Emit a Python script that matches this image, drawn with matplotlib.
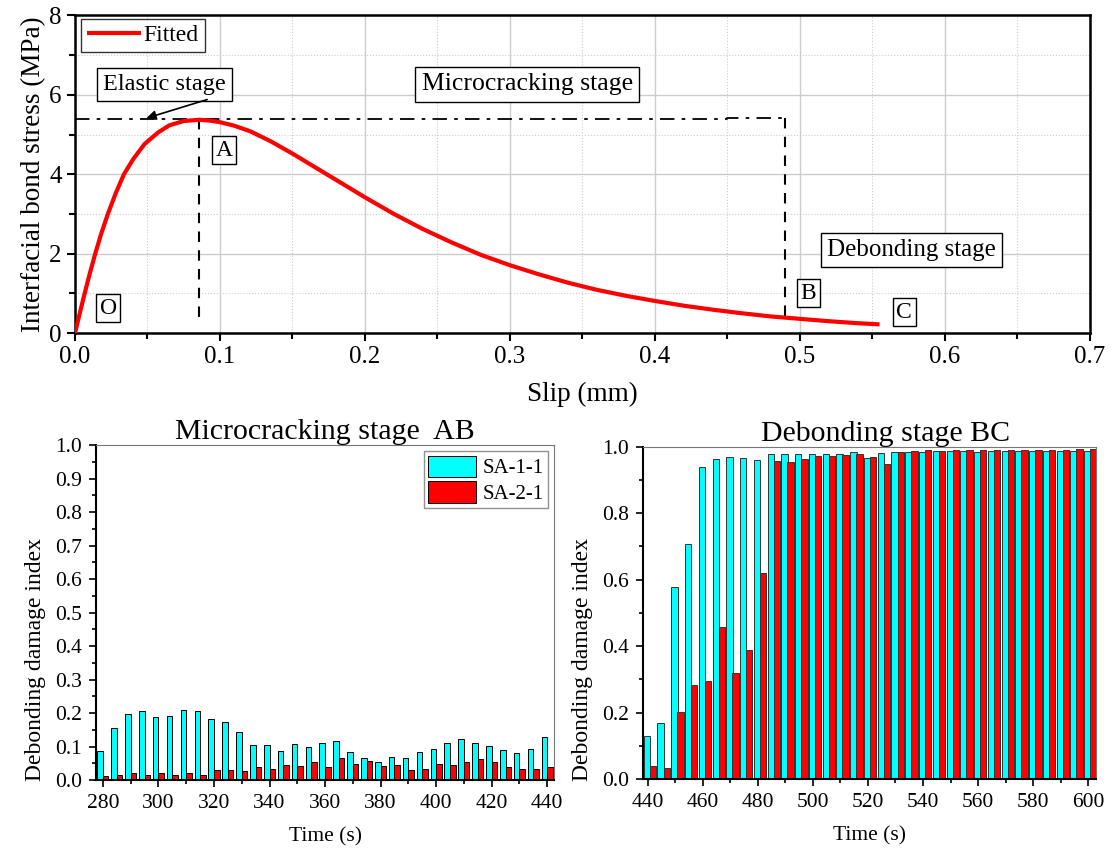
import numpy as np
import matplotlib
matplotlib.use('Agg')
import matplotlib.pyplot as plt
from matplotlib.ticker import MultipleLocator, FormatStrFormatter

plt.rcParams['font.family'] = ['Liberation Serif', 'DejaVu Serif']

# fitted bond-slip curve
slip = [0, 0.003, 0.006, 0.01, 0.014, 0.018, 0.0227, 0.028, 0.0338, 0.04, 0.048,
        0.0573, 0.065, 0.075, 0.0857, 0.093, 0.1, 0.11, 0.121, 0.135, 0.15, 0.165,
        0.18, 0.2, 0.22, 0.24, 0.26, 0.28, 0.3, 0.32, 0.34, 0.36, 0.38, 0.4, 0.42,
        0.44, 0.46, 0.48, 0.5, 0.52, 0.54, 0.555]
stress = [0, 0.45, 0.9, 1.47, 2.0, 2.49, 3.0, 3.51, 4.0, 4.37, 4.76,
          5.05, 5.23, 5.34, 5.37, 5.35, 5.31, 5.22, 5.08, 4.83, 4.52, 4.19,
          3.86, 3.42, 3.0, 2.62, 2.28, 1.97, 1.71, 1.48, 1.27, 1.09, 0.94, 0.81, 0.69,
          0.59, 0.50, 0.42, 0.36, 0.30, 0.25, 0.22]
s_A, s_B = 0.0855, 0.49
tau_peak = 5.38

# damage index, microcracking stage AB
time_ab = list(range(280, 441, 5))
sa11_ab = [0.088, 0.156, 0.197, 0.206, 0.189, 0.192, 0.21, 0.207, 0.183, 0.172, 0.144,
           0.104, 0.106, 0.087, 0.109, 0.098, 0.112, 0.116, 0.085, 0.065, 0.054, 0.068,
           0.067, 0.083, 0.093, 0.111, 0.121, 0.11, 0.101, 0.09, 0.082, 0.093, 0.129]
sa21_ab = [0.013, 0.015, 0.021, 0.016, 0.021, 0.016, 0.022, 0.016, 0.031, 0.029, 0.026,
           0.04, 0.034, 0.044, 0.042, 0.055, 0.039, 0.065, 0.049, 0.058, 0.042, 0.044,
           0.029, 0.032, 0.048, 0.045, 0.053, 0.062, 0.054, 0.038, 0.032, 0.034, 0.039]

# damage index, debonding stage BC
time_bc = list(range(440, 601, 5))
sa11_bc = [0.128, 0.168, 0.579, 0.708, 0.938, 0.964, 0.969, 0.966, 0.960, 0.977, 0.979,
           0.977, 0.977, 0.979, 0.978, 0.983, 0.967, 0.982, 0.985, 0.985, 0.985, 0.986,
           0.986, 0.986, 0.985, 0.986, 0.986, 0.986, 0.986, 0.986, 0.986, 0.986, 0.986]
sa21_bc = [0.038, 0.032, 0.203, 0.283, 0.294, 0.458, 0.318, 0.389, 0.619, 0.958, 0.955,
           0.962, 0.972, 0.972, 0.974, 0.979, 0.970, 0.949, 0.985, 0.988, 0.989, 0.986,
           0.990, 0.990, 0.990, 0.991, 0.990, 0.990, 0.991, 0.991, 0.991, 0.992, 0.992]

fig = plt.figure(figsize=(11.12, 8.52), dpi=100)

# ---- top: bond-slip curve
ax = fig.add_axes([0.0674, 0.609, 0.9126, 0.373])
ax.plot(slip, stress, color='red', lw=3, label='Fitted', zorder=5, solid_capstyle='butt')
ax.plot([0, 0.45, 0.45, s_B], [tau_peak, tau_peak, tau_peak + 0.04, tau_peak + 0.04],
        color='black', lw=1.3, ls=(0, (8, 4, 2, 4)))
ax.plot([s_B, s_B], [tau_peak + 0.04, 0.3], color='black', lw=1.5, ls=(0, (5, 4)))
ax.plot([s_A, s_A], [tau_peak, 0.3], color='black', lw=1.5, ls=(0, (5, 4)))
ax.set_xlim(0, 0.7)
ax.set_ylim(0, 8)
ax.xaxis.set_major_locator(MultipleLocator(0.1))
ax.xaxis.set_minor_locator(MultipleLocator(0.05))
ax.yaxis.set_major_locator(MultipleLocator(2))
ax.yaxis.set_minor_locator(MultipleLocator(1))
ax.xaxis.set_major_formatter(FormatStrFormatter('%.1f'))
ax.grid(which='major', color='#cccccc', lw=1)
ax.grid(which='minor', color='#cccccc', lw=0.8, ls=':')
ax.set_axisbelow(True)
ax.tick_params(which='both', direction='out', labelsize=18, width=1.5)
ax.tick_params(which='major', length=6)
ax.tick_params(which='minor', length=4)
for sp in ax.spines.values():
    sp.set_linewidth(1.8)
ax.set_xlabel('Slip (mm)', fontsize=19.5, labelpad=10)
ax.set_ylabel('Interfacial bond stress (MPa)', fontsize=19.5, labelpad=2)
leg = ax.legend(loc='upper left', fontsize=17, frameon=True, fancybox=False,
                handlelength=2.3, borderpad=0.25, handletextpad=0.1,
                bbox_to_anchor=(0.006, 0.99), borderaxespad=0.0)
leg.get_frame().set_edgecolor('black')
leg.get_frame().set_linewidth(1)

box = dict(boxstyle='square,pad=0.25', fc='white', ec='black', lw=1)
ax.text(0.062, 6.26, 'Elastic stage', fontsize=17.5, ha='center', va='center', bbox=box)
ax.text(0.312, 6.26, 'Microcracking stage', fontsize=18.5, ha='center', va='center', bbox=box)
ax.text(0.577, 2.09, 'Debonding stage', fontsize=18, ha='center', va='center', bbox=box)
for lab, x, y in [('A', 0.103, 4.6), ('B', 0.506, 1.0), ('C', 0.572, 0.53), ('O', 0.023, 0.63)]:
    ax.text(x, y, lab, fontsize=17, ha='center', va='center',
            bbox=dict(boxstyle='square,pad=0.15', fc='white', ec='black', lw=1))
ax.annotate('', xy=(0.0474, 5.39), xytext=(0.093, 5.9),
            arrowprops=dict(arrowstyle='-|>', color='black', lw=1.2, mutation_scale=14))


def style_bottom(a):
    a.tick_params(which='both', direction='out', labelsize=15.5, width=1.2, top=False, right=False)
    a.tick_params(which='major', length=5, pad=5)
    a.tick_params(which='minor', length=3)
    a.spines['left'].set_linewidth(1.5)
    a.spines['bottom'].set_linewidth(1.5)
    a.spines['top'].set_color('#777777')
    a.spines['right'].set_color('#777777')
    a.set_xlabel('Time (s)', fontsize=15.5, labelpad=10)
    a.set_ylabel('Debonding damage index', fontsize=17)
    a.yaxis.set_label_coords(-0.11, 0.36)


# ---- bottom left: microcracking stage
ax1 = fig.add_axes([0.0863, 0.0845, 0.412, 0.393])
t = np.array(time_ab)
ax1.bar(t - 1, sa11_ab, width=2, color='#00FFFF', edgecolor='black', lw=0.7, label='SA-1-1')
ax1.bar(t + 1, sa21_ab, width=2, color='#FF0000', edgecolor='black', lw=0.7, label='SA-2-1')
ax1.set_xlim(277.5, 442.5)
ax1.set_ylim(0, 1.0)
ax1.xaxis.set_major_locator(MultipleLocator(20))
ax1.xaxis.set_minor_locator(MultipleLocator(10))
ax1.yaxis.set_major_locator(MultipleLocator(0.1))
ax1.yaxis.set_minor_locator(MultipleLocator(0.05))
ax1.yaxis.set_major_formatter(FormatStrFormatter('%.1f'))
style_bottom(ax1)
ax1.set_title('Microcracking stage  AB', fontsize=21.5, pad=1)
leg1 = ax1.legend(loc='upper right', fontsize=15, fancybox=False, frameon=True,
                  handlelength=2.3, handleheight=1.2, borderpad=0.2, labelspacing=0.15,
                  handletextpad=0.3, borderaxespad=0.3)
leg1.get_frame().set_edgecolor('#777777')

# ---- bottom right: debonding stage
ax2 = fig.add_axes([0.578, 0.0857, 0.408, 0.390])
t = np.array(time_bc)
ax2.bar(t - 0.3, sa11_bc, width=2.3, color='#00FFFF', edgecolor='#333333', lw=0.7)
ax2.bar(t + 1.9, sa21_bc, width=2.3, color='#FF0000', edgecolor='#333333', lw=0.7)
ax2.set_xlim(438.2, 603)
ax2.set_ylim(0, 1.0)
ax2.xaxis.set_major_locator(MultipleLocator(20))
ax2.xaxis.set_minor_locator(MultipleLocator(10))
ax2.yaxis.set_major_locator(MultipleLocator(0.2))
ax2.yaxis.set_minor_locator(MultipleLocator(0.1))
ax2.yaxis.set_major_formatter(FormatStrFormatter('%.1f'))
style_bottom(ax2)
ax2.set_title('Debonding stage BC', fontsize=21.5, pad=1, x=0.535)

fig.savefig('out.png', dpi=100)
